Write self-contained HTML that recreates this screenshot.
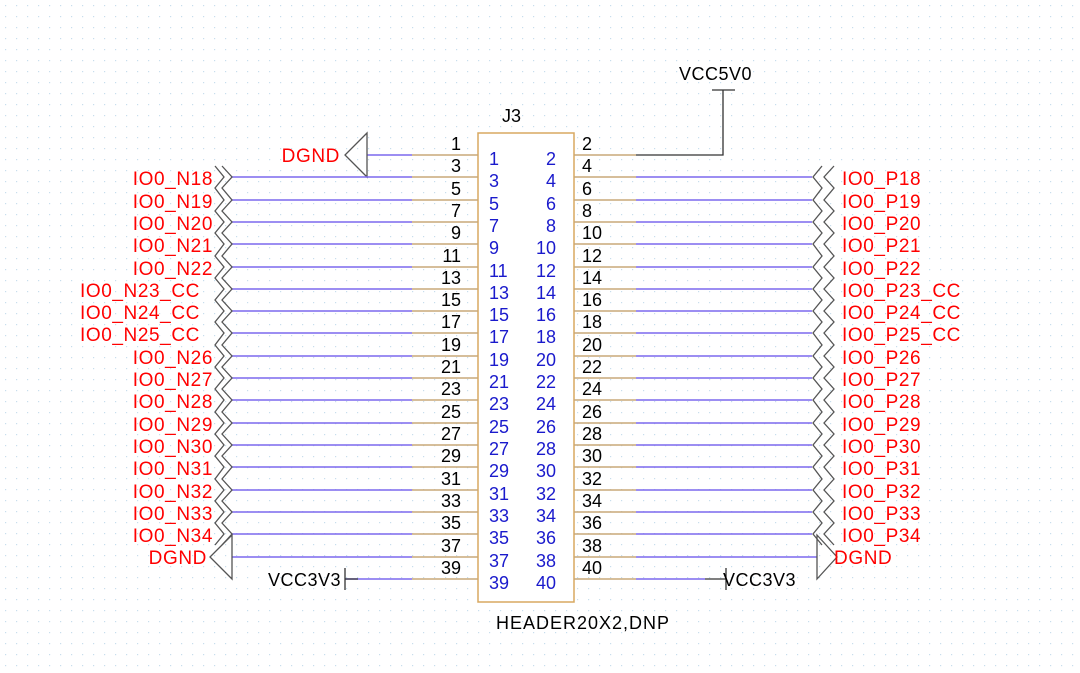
<!DOCTYPE html>
<html><head><meta charset="utf-8"><style>
body{margin:0;background:#fff}
svg{display:block;font-family:"Liberation Sans",sans-serif}
.r{fill:#f00;font-size:19px;letter-spacing:0.6px}
.k{fill:#000;font-size:18px}
.b{fill:#1a1acc;font-size:18px}
.p{stroke:#7b68ee;stroke-width:1.5}
.t{stroke:#c8a878;stroke-width:1.5}
.g{stroke:#555;stroke-width:1.3;fill:none}
</style></head><body>
<svg width="1080" height="673" viewBox="0 0 1080 673">
<defs><pattern id="d" width="11" height="11" patternUnits="userSpaceOnUse"><rect x="5" y="5" width="1.2" height="1.2" fill="#c8deec"/></pattern></defs>
<rect width="1080" height="673" fill="url(#d)"/>
<rect x="478" y="133" width="96" height="469" fill="#fff" stroke="#d8a860" stroke-width="1.5"/>
<text x="502" y="122" class="k">J3</text>
<text x="496" y="629" class="k" style="letter-spacing:1px">HEADER20X2,DNP</text>
<text x="679" y="80" class="k" style="letter-spacing:0.5px">VCC5V0</text>
<path d="M712 90H735M723 90V155H636" stroke="#333" stroke-width="1.3" fill="none"/>
<path d="M636 155H574" class="t"/>
<path d="M367 155H412" class="p"/><path d="M412 155H478" class="t"/>
<path d="M367 133V177L345 155Z" class="g"/>
<text x="340" y="162" class="r" text-anchor="end">DGND</text>
<path d="M232 177H412M232 200H412M232 222H412M232 244H412M232 267H412M232 289H412M232 311H412M232 333H412M232 356H412M232 378H412M232 400H412M232 423H412M232 445H412M232 467H412M232 490H412M232 512H412M232 534H412M232 557H412M345 579H412" class="p"/>
<path d="M412 177H478M412 200H478M412 222H478M412 244H478M412 267H478M412 289H478M412 311H478M412 333H478M412 356H478M412 378H478M412 400H478M412 423H478M412 445H478M412 467H478M412 490H478M412 512H478M412 534H478M412 557H478M412 579H478" class="t"/>
<path d="M574 177H636M574 200H636M574 222H636M574 244H636M574 267H636M574 289H636M574 311H636M574 333H636M574 356H636M574 378H636M574 400H636M574 423H636M574 445H636M574 467H636M574 490H636M574 512H636M574 534H636M574 557H636M574 579H636" class="t"/>
<path d="M636 177H812M636 200H812M636 222H812M636 244H812M636 267H812M636 289H812M636 311H812M636 333H812M636 356H812M636 378H812M636 400H812M636 423H812M636 445H812M636 467H812M636 490H812M636 512H812M636 534H812M636 557H817M636 579H705" class="p"/>
<path d="M705 579H726M726 568V590M345 568V590M345 579H358" stroke="#333" stroke-width="1.3" fill="none"/>
<text x="341" y="586" class="k" text-anchor="end" style="letter-spacing:0.5px">VCC3V3</text>
<text x="723" y="586" class="k" style="letter-spacing:0.5px">VCC3V3</text>
<path d="M232 535V579L210 557Z" class="g"/>
<text x="207" y="564" class="r" text-anchor="end">DGND</text>
<path d="M817 535V579L837 557Z" class="g"/>
<text x="834" y="564" class="r">DGND</text>
<path d="M215 166L224 177L215 188L224 200L215 211L224 222L215 233L224 244L215 256L224 267L215 278L224 289L215 300L224 311L215 322L224 333L215 345L224 356L215 367L224 378L215 389L224 400L215 412L224 423L215 434L224 445L215 456L224 467L215 479L224 490L215 501L224 512L215 523L224 534L215 545" class="g"/>
<path d="M222 166L232 177L222 188L232 200L222 211L232 222L222 233L232 244L222 256L232 267L222 278L232 289L222 300L232 311L222 322L232 333L222 345L232 356L222 367L232 378L222 389L232 400L222 412L232 423L222 434L232 445L222 456L232 467L222 479L232 490L222 501L232 512L222 523L232 534L222 545" class="g"/>
<path d="M822 166L813 177L822 188L813 200L822 211L813 222L822 233L813 244L822 256L813 267L822 278L813 289L822 300L813 311L822 322L813 333L822 345L813 356L822 367L813 378L822 389L813 400L822 412L813 423L822 434L813 445L822 456L813 467L822 479L813 490L822 501L813 512L822 523L813 534L822 545" class="g"/>
<path d="M834 166L824 177L834 188L824 200L834 211L824 222L834 233L824 244L834 256L824 267L834 278L824 289L834 300L824 311L834 322L824 333L834 345L824 356L834 367L824 378L834 389L824 400L834 412L824 423L834 434L824 445L834 456L824 467L834 479L824 490L834 501L824 512L834 523L824 534L834 545" class="g"/>
<g class="r" text-anchor="end">
<text x="213" y="185">IO0_N18</text><text x="213" y="208">IO0_N19</text><text x="213" y="230">IO0_N20</text><text x="213" y="252">IO0_N21</text><text x="213" y="275">IO0_N22</text><text x="200" y="297">IO0_N23_CC</text><text x="200" y="319">IO0_N24_CC</text><text x="200" y="341">IO0_N25_CC</text><text x="213" y="364">IO0_N26</text><text x="213" y="386">IO0_N27</text><text x="213" y="408">IO0_N28</text><text x="213" y="431">IO0_N29</text><text x="213" y="453">IO0_N30</text><text x="213" y="475">IO0_N31</text><text x="213" y="498">IO0_N32</text><text x="213" y="520">IO0_N33</text><text x="213" y="542">IO0_N34</text>
</g>
<g class="r">
<text x="842" y="185">IO0_P18</text><text x="842" y="208">IO0_P19</text><text x="842" y="230">IO0_P20</text><text x="842" y="252">IO0_P21</text><text x="842" y="275">IO0_P22</text><text x="842" y="297">IO0_P23_CC</text><text x="842" y="319">IO0_P24_CC</text><text x="842" y="341">IO0_P25_CC</text><text x="842" y="364">IO0_P26</text><text x="842" y="386">IO0_P27</text><text x="842" y="408">IO0_P28</text><text x="842" y="431">IO0_P29</text><text x="842" y="453">IO0_P30</text><text x="842" y="475">IO0_P31</text><text x="842" y="498">IO0_P32</text><text x="842" y="520">IO0_P33</text><text x="842" y="542">IO0_P34</text>
</g>
<g class="k" text-anchor="end">
<text x="461" y="150">1</text><text x="461" y="172">3</text><text x="461" y="195">5</text><text x="461" y="217">7</text><text x="461" y="239">9</text><text x="461" y="262">11</text><text x="461" y="284">13</text><text x="461" y="306">15</text><text x="461" y="328">17</text><text x="461" y="351">19</text><text x="461" y="373">21</text><text x="461" y="395">23</text><text x="461" y="418">25</text><text x="461" y="440">27</text><text x="461" y="462">29</text><text x="461" y="485">31</text><text x="461" y="507">33</text><text x="461" y="529">35</text><text x="461" y="552">37</text><text x="461" y="574">39</text>
</g>
<g class="k">
<text x="582" y="150">2</text><text x="582" y="172">4</text><text x="582" y="195">6</text><text x="582" y="217">8</text><text x="582" y="239">10</text><text x="582" y="262">12</text><text x="582" y="284">14</text><text x="582" y="306">16</text><text x="582" y="328">18</text><text x="582" y="351">20</text><text x="582" y="373">22</text><text x="582" y="395">24</text><text x="582" y="418">26</text><text x="582" y="440">28</text><text x="582" y="462">30</text><text x="582" y="485">32</text><text x="582" y="507">34</text><text x="582" y="529">36</text><text x="582" y="552">38</text><text x="582" y="574">40</text>
</g>
<g class="b">
<text x="489" y="165">1</text><text x="489" y="187">3</text><text x="489" y="210">5</text><text x="489" y="232">7</text><text x="489" y="254">9</text><text x="489" y="277">11</text><text x="489" y="299">13</text><text x="489" y="321">15</text><text x="489" y="343">17</text><text x="489" y="366">19</text><text x="489" y="388">21</text><text x="489" y="410">23</text><text x="489" y="433">25</text><text x="489" y="455">27</text><text x="489" y="477">29</text><text x="489" y="500">31</text><text x="489" y="522">33</text><text x="489" y="544">35</text><text x="489" y="567">37</text><text x="489" y="589">39</text>
</g>
<g class="b" text-anchor="end">
<text x="556" y="165">2</text><text x="556" y="187">4</text><text x="556" y="210">6</text><text x="556" y="232">8</text><text x="556" y="254">10</text><text x="556" y="277">12</text><text x="556" y="299">14</text><text x="556" y="321">16</text><text x="556" y="343">18</text><text x="556" y="366">20</text><text x="556" y="388">22</text><text x="556" y="410">24</text><text x="556" y="433">26</text><text x="556" y="455">28</text><text x="556" y="477">30</text><text x="556" y="500">32</text><text x="556" y="522">34</text><text x="556" y="544">36</text><text x="556" y="567">38</text><text x="556" y="589">40</text>
</g>
</svg>
</body></html>
